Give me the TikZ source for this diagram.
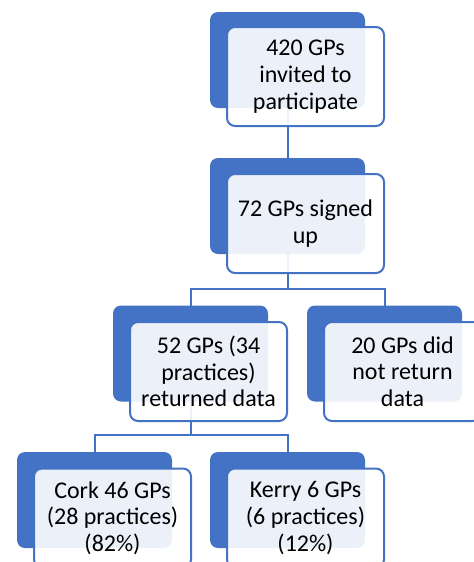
\documentclass[tikz,border=0pt]{standalone}
\usepackage{fontspec}
\setmainfont{Carlito}
\definecolor{smartblue}{HTML}{4472C4}

\begin{document}
\begin{tikzpicture}[x=0.75pt,y=-0.75pt,
    backbox/.style={fill=smartblue,rounded corners=6pt,minimum width=116.25pt,minimum height=72pt,inner sep=0pt,outer sep=0pt},
    frontbox/.style={draw=smartblue,line width=1.5pt,fill=white,fill opacity=0.9,text opacity=1,rounded corners=6pt,minimum width=117.75pt,minimum height=74.25pt,inner sep=0pt,align=center,font=\fontsize{18}{20}\selectfont},
    link/.style={draw=smartblue,line width=1.5pt}]
        \clip (0,0) rectangle (474,562);
        % back boxes
        \node[backbox] (backA) at (287.5,60) {};
        \node[backbox] (backB) at (287.5,206) {};
        \node[backbox] (backC) at (190.5,353.5) {};
        \node[backbox] (backD) at (384.5,353.5) {};
        \node[backbox] (backE) at (94.5,500) {};
        \node[backbox] (backF) at (287.5,500) {};
        % connectors
        \draw[link] (backA.south) -- (backB.north);
        \draw[link] (backB.south) -- ++(0,35) -| (backC.north);
        \draw[link] (backB.south) -- ++(0,35) -| (backD.north);
        \draw[link] (backC.south) -- ++(0,33.5) -| (backE.north);
        \draw[link] (backC.south) -- ++(0,33.5) -| (backF.north);
        % front boxes
        \node[frontbox] (invited) at (305.5,76.5) {420 GPs\\invited to\\participate};
        \node[frontbox] (signed) at (305.5,223.5) {72 GPs signed\\up};
        \node[frontbox] (returned) at (208.5,371.5) {52 GPs (34\\practices)\\returned data};
        \node[frontbox] (notreturned) at (402.5,371.5) {20 GPs did\\not return\\data};
        \node[frontbox] (cork) at (112.5,518) {Cork 46 GPs\\(28 practices)\\(82\%)};
        \node[frontbox] (kerry) at (305.5,518) {Kerry 6 GPs\\(6 practices)\\(12\%)};
    \end{tikzpicture}
\end{document}
